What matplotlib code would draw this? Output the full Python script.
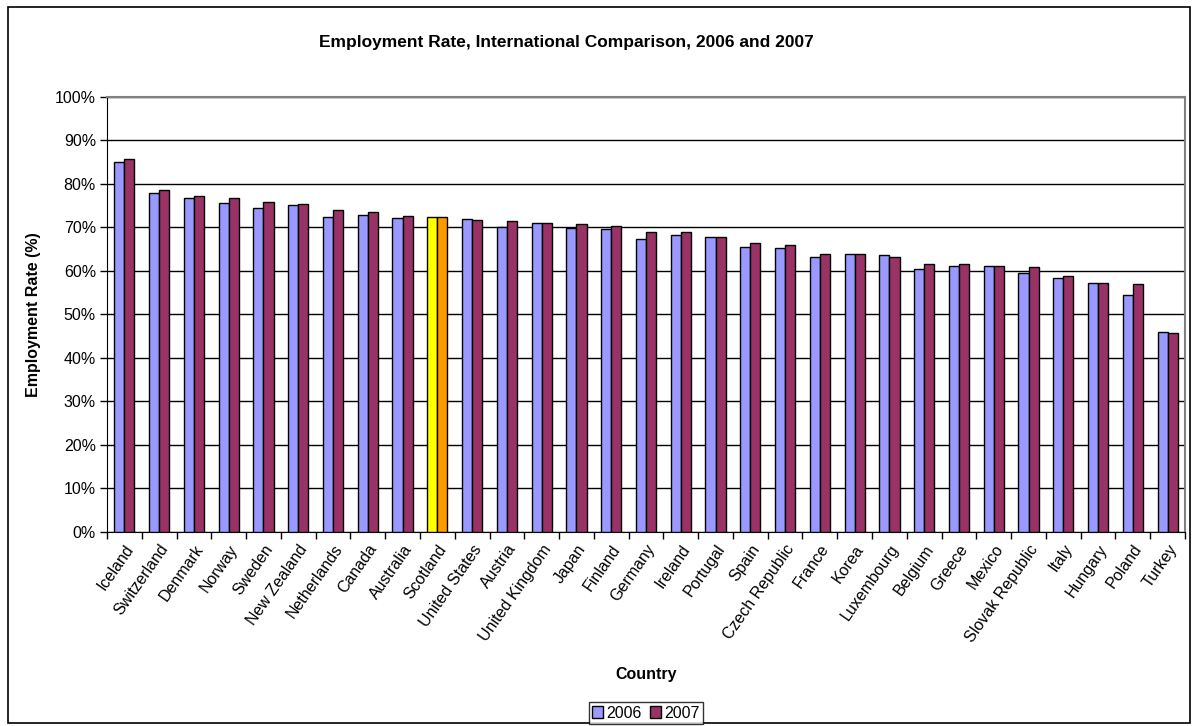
import numpy as np
import matplotlib
matplotlib.use("Agg")
import matplotlib.pyplot as plt
from matplotlib.patches import Rectangle
from matplotlib.ticker import PercentFormatter

plt.rcParams['font.family'] = ['Liberation Sans', 'DejaVu Sans']

# Data
countries = ['Iceland', 'Switzerland', 'Denmark', 'Norway', 'Sweden', 'New Zealand',
             'Netherlands', 'Canada', 'Australia', 'Scotland', 'United States', 'Austria',
             'United Kingdom', 'Japan', 'Finland', 'Germany', 'Ireland', 'Portugal', 'Spain',
             'Czech Republic', 'France', 'Korea', 'Luxembourg', 'Belgium', 'Greece', 'Mexico',
             'Slovak Republic', 'Italy', 'Hungary', 'Poland', 'Turkey']
rate_2006 = [85.1, 77.9, 76.8, 75.5, 74.5, 75.1, 72.3, 72.9, 72.1, 72.3, 71.9, 70.1,
             70.9, 69.9, 69.5, 67.2, 68.2, 67.8, 65.5, 65.2, 63.2, 63.9, 63.6, 60.4,
             61.0, 61.0, 59.4, 58.4, 57.3, 54.5, 45.9]
rate_2007 = [85.6, 78.5, 77.3, 76.8, 75.7, 75.4, 74.0, 73.6, 72.7, 72.3, 71.7, 71.4,
             71.0, 70.7, 70.4, 69.0, 68.9, 67.7, 66.3, 66.0, 63.9, 63.9, 63.1, 61.6,
             61.5, 61.1, 60.8, 58.8, 57.3, 57.0, 45.8]
highlight = 'Scotland'

c06, c07 = '#9999FF', '#993366'
h06, h07 = '#FFFF00', '#FF9900'
fs = 11.5

fig = plt.figure(figsize=(11.92, 7.26), dpi=100)
ax = fig.add_axes([107 / 1192, 1 - 532 / 726, (1185 - 107) / 1192, (532 - 96.7) / 726])

x = np.arange(len(countries))
w = 0.29
cols06 = [h06 if c == highlight else c06 for c in countries]
cols07 = [h07 if c == highlight else c07 for c in countries]
ax.bar(x - w / 2, rate_2006, w, color=cols06, edgecolor='black', linewidth=1, label='2006', zorder=3)
ax.bar(x + w / 2, rate_2007, w, color=cols07, edgecolor='black', linewidth=1, label='2007', zorder=3)

ax.set_xlim(-0.5, len(countries) - 0.5)
ax.set_ylim(0, 100)
ax.set_yticks(np.arange(0, 101, 10))
ax.yaxis.set_major_formatter(PercentFormatter(decimals=0))
ax.grid(axis='y', color='black', linewidth=1, zorder=0)

ax.set_xticks(x)
ax.set_xticklabels(countries, rotation=55, ha='right', rotation_mode='anchor', fontsize=fs)
ax.set_xticks(np.arange(-0.5, len(countries), 1), minor=True)
ax.tick_params(axis='x', which='major', length=0, pad=7)
ax.tick_params(axis='x', which='minor', length=5, width=1, direction='out')
ax.tick_params(axis='y', length=5, width=1, labelsize=fs, pad=3)

for s in ['left', 'bottom']:
    ax.spines[s].set_color('black')
for s in ['top', 'right']:
    ax.spines[s].set_color('#808080')
    ax.spines[s].set_linewidth(1.5)

ax.set_ylabel('Employment Rate (%)', fontweight='bold', fontsize=fs, labelpad=10)
fig.text(646 / 1192, 1 - 675 / 726, 'Country', fontweight='bold', fontsize=fs,
         ha='center', va='center')
fig.text(566 / 1192, 1 - 42 / 726, 'Employment Rate, International Comparison, 2006 and 2007',
         fontweight='bold', fontsize=12.5, ha='center', va='center')

leg = fig.legend([Rectangle((0, 0), 1, 1, fc=c06, ec='black'), Rectangle((0, 0), 1, 1, fc=c07, ec='black')],
                 ['2006', '2007'], loc='center', bbox_to_anchor=(646 / 1192, 1 - 713 / 726), ncol=2,
                 fontsize=fs, frameon=True, fancybox=False, edgecolor='black',
                 handlelength=0.7, handleheight=0.7, handletextpad=0.2, columnspacing=0.5,
                 borderpad=0.2, borderaxespad=0)
leg.get_frame().set_linewidth(1)

fig.add_artist(Rectangle((8 / 1192, 3 / 726), 1182 / 1192, 716 / 726, transform=fig.transFigure,
                         fill=False, edgecolor='black', linewidth=1.2))

fig.savefig('out.png', dpi=100)
